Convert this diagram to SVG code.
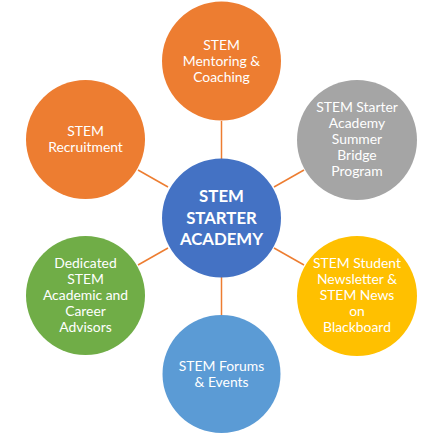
<svg xmlns="http://www.w3.org/2000/svg" width="440" height="440" viewBox="0 0 440 440">
<style>
.t{font-family:Lato,"Noto Sans","Liberation Sans",sans-serif;font-size:13.9px;fill:#fff;text-anchor:middle}
.c{font-family:Lato,"Noto Sans","Liberation Sans",sans-serif;font-size:16.8px;font-weight:bold;fill:#fff;text-anchor:middle}
.ln{stroke:#ED7D31;stroke-width:1.5;fill:none}
</style>
<rect width="440" height="440" fill="#fff"/>
<g id="connectors">
<line class="ln" x1="221.5" y1="121" x2="221.5" y2="159"/>
<line class="ln" x1="138" y1="170" x2="168" y2="187"/>
<line class="ln" x1="274" y1="187" x2="304" y2="170"/>
<line class="ln" x1="138" y1="265" x2="168" y2="248"/>
<line class="ln" x1="274" y1="248" x2="304" y2="265"/>
<line class="ln" x1="221.5" y1="277" x2="221.5" y2="315"/>
</g>
<g id="center">
<circle cx="221.5" cy="218" r="59.5" fill="#4472C4"/>
<text class="c" x="221.5" y="202">STEM</text>
<text class="c" x="221.5" y="223.5">STARTER</text>
<text class="c" x="221.5" y="245">ACADEMY</text>
</g>
<g id="mentoring">
<circle cx="221.5" cy="61" r="59.5" fill="#ED7D31"/>
<text class="t" x="221.5" y="50">STEM</text>
<text class="t" x="221.5" y="66">Mentoring &amp;</text>
<text class="t" x="221.5" y="82">Coaching</text>
</g>
<g id="recruitment">
<circle cx="85.5" cy="139.5" r="59.5" fill="#ED7D31"/>
<text class="t" x="85.5" y="136">STEM</text>
<text class="t" x="85.5" y="152">Recruitment</text>
</g>
<g id="summer">
<circle cx="357" cy="140" r="60" fill="#A5A5A5"/>
<text class="t" x="357" y="112">STEM Starter</text>
<text class="t" x="357" y="128">Academy</text>
<text class="t" x="357" y="144">Summer</text>
<text class="t" x="357" y="160">Bridge</text>
<text class="t" x="357" y="176">Program</text>
</g>
<g id="advisors">
<circle cx="85.5" cy="295.5" r="59.5" fill="#70AD47"/>
<text class="t" x="85.5" y="268">Dedicated</text>
<text class="t" x="85.5" y="284">STEM</text>
<text class="t" x="85.5" y="300">Academic and</text>
<text class="t" x="85.5" y="316">Career</text>
<text class="t" x="85.5" y="332">Advisors</text>
</g>
<g id="newsletter">
<circle cx="357" cy="296" r="60" fill="#FFC000"/>
<text class="t" x="357" y="268">STEM Student</text>
<text class="t" x="357" y="284">Newsletter &amp;</text>
<text class="t" x="357" y="300">STEM News</text>
<text class="t" x="357" y="316">on</text>
<text class="t" x="357" y="332">Blackboard</text>
</g>
<g id="forums">
<circle cx="221.5" cy="374" r="59" fill="#5B9BD5"/>
<text class="t" x="221.5" y="371">STEM Forums</text>
<text class="t" x="221.5" y="387">&amp; Events</text>
</g>
</svg>
